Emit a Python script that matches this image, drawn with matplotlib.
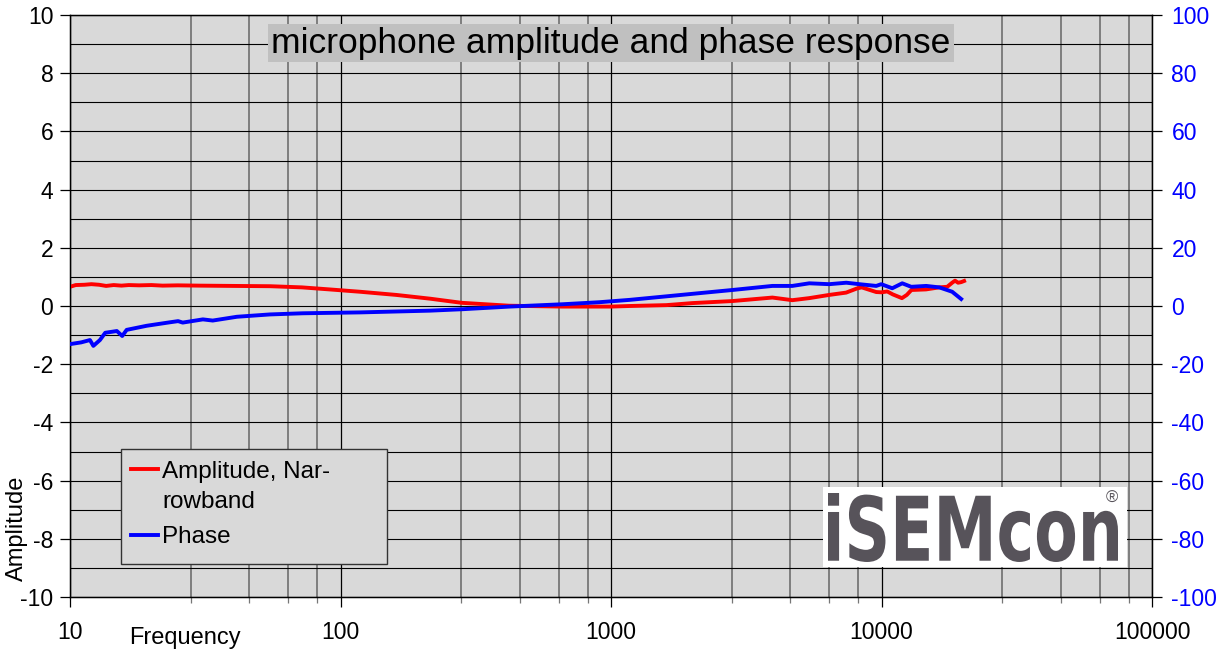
import numpy as np
import matplotlib
matplotlib.use("Agg")
import matplotlib.pyplot as plt
from matplotlib.ticker import FixedLocator, MultipleLocator, NullFormatter
from matplotlib.patches import Rectangle, PathPatch
from matplotlib.lines import Line2D
from matplotlib.textpath import TextPath
from matplotlib.font_manager import FontProperties
from matplotlib.transforms import Affine2D

plt.rcParams['font.family'] = ['Liberation Sans', 'DejaVu Sans']
plt.rcParams['axes.unicode_minus'] = False

# amplitude (dB, left axis)
amp_freq = [10, 10.5, 11.3, 12, 12.8, 13.6, 14.5, 15.5, 16.5, 18, 20, 22, 25, 30,
            40, 55, 72, 91, 118, 161, 215, 280, 420, 660, 1000, 1170, 1600, 2000,
            2810, 3950, 4680, 5400, 6400, 7400, 8100, 8450, 9560, 10000, 10500,
            11000, 11900, 12400, 12900, 14600, 16350, 17500, 18250, 18700, 19200,
            19700, 20200]
amp_db = [0.66, 0.72, 0.73, 0.75, 0.73, 0.69, 0.72, 0.70, 0.72, 0.71, 0.72, 0.70,
          0.71, 0.70, 0.69, 0.68, 0.64, 0.57, 0.49, 0.38, 0.25, 0.11, 0.01, -0.02,
          -0.02, 0.0, 0.03, 0.1, 0.17, 0.29, 0.2, 0.27, 0.38, 0.46, 0.6, 0.64,
          0.48, 0.47, 0.5, 0.4, 0.27, 0.38, 0.55, 0.57, 0.64, 0.66, 0.8, 0.87,
          0.8, 0.82, 0.86]

# phase (degrees, right axis)
ph_freq = [10, 11, 11.85, 12.2, 12.9, 13.5, 14.9, 15.6, 16.2, 19.2, 23.4, 25.1,
           26.1, 31, 33.7, 41.4, 54.8, 72.5, 118, 214, 283, 422, 662, 905, 1170,
           2810, 3950, 4680, 5410, 6410, 7410, 8280, 9560, 9980, 10960, 11930,
           12880, 14630, 16350, 18250, 19700]
ph_deg = [-13.1, -12.5, -11.7, -13.7, -11.7, -9.2, -8.6, -10.3, -8.2, -6.8, -5.6,
          -5.2, -5.7, -4.6, -5.0, -3.7, -2.9, -2.5, -2.2, -1.6, -1.1, -0.2, 0.6,
          1.3, 2.1, 5.5, 6.9, 6.9, 7.8, 7.5, 8.0, 7.5, 6.9, 7.5, 6.1, 7.8, 6.6,
          6.9, 6.4, 4.9, 2.4]

W, H = 1220, 655
fig = plt.figure(figsize=(W / 100, H / 100), dpi=100)
ax = fig.add_axes([70 / W, 1 - 597 / H, (1152 - 70) / W, (597 - 15) / H])
ax.set_facecolor('#d9d9d9')

ax.set_xscale('log')
ax.set_xlim(10, 100000)
ax.set_ylim(-10, 10)
minors = [m * 10 ** k for k in range(1, 5) for m in (2.8, 4.6, 6.4, 8.2)]
ax.xaxis.set_major_locator(FixedLocator([10, 100, 1000, 10000, 100000]))
ax.xaxis.set_minor_locator(FixedLocator(minors))
ax.xaxis.set_minor_formatter(NullFormatter())
ax.set_xticklabels(['10', '100', '1000', '10000', '100000'])
ax.yaxis.set_major_locator(MultipleLocator(2))
ax.yaxis.set_minor_locator(MultipleLocator(1))

ax.grid(True, which='major', axis='x', color='black', lw=0.9)
ax.grid(True, which='minor', axis='x', color='#777777', lw=1.3)
ax.grid(True, which='both', axis='y', color='black', lw=0.8)
ax.set_axisbelow(True)

ax.tick_params(axis='x', which='major', length=7, width=0.9, labelsize=16.5, pad=10)
ax.tick_params(axis='x', which='minor', length=4, width=0.9, color='#777777')
ax.tick_params(axis='y', which='major', length=7, width=0.9, labelsize=16.5, pad=5)
ax.tick_params(axis='y', which='minor', length=0)
for s in ax.spines.values():
    s.set_color('black')
    s.set_linewidth(1)

ax.plot(amp_freq, amp_db, color='#ff0000', lw=2.8, zorder=3)

ax2 = ax.twinx()
ax2.set_ylim(-100, 100)
ax2.yaxis.set_major_locator(MultipleLocator(20))
ax2.tick_params(axis='y', length=7, width=0.9, labelsize=16.5, labelcolor='#0000ff', pad=7)
ax2.plot(ph_freq, ph_deg, color='#0000ff', lw=2.8, zorder=3)

# axis labels
fig.text(17 / W, 1 - 528 / H, 'Amplitude', rotation=90, fontsize=17,
         ha='center', va='center')
fig.text(185 / W, 1 - 638 / H, 'Frequency', fontsize=17, ha='center', va='center')

# title
fig.text(611 / W, 1 - 43 / H, 'microphone amplitude and phase response',
         fontsize=25.5, ha='center', va='center', zorder=5,
         bbox=dict(facecolor='#c0c0c0', edgecolor='none', pad=2))

# legend box
fig.add_artist(Rectangle((121 / W, 1 - 564 / H), 266 / W, 115 / H,
                         transform=fig.transFigure, facecolor='#d9d9d9',
                         edgecolor='#333333', lw=1, zorder=5))
fig.add_artist(Line2D([131 / W, 158 / W], [1 - 469 / H] * 2, color='#ff0000',
                      lw=2.8, transform=fig.transFigure, zorder=6))
fig.add_artist(Line2D([131 / W, 158 / W], [1 - 535 / H] * 2, color='#0000ff',
                      lw=2.8, transform=fig.transFigure, zorder=6))
fig.text(162 / W, 1 - 472 / H, 'Amplitude, Nar-', fontsize=17.5,
         ha='left', va='center', zorder=7)
fig.text(162 / W, 1 - 502 / H, 'rowband', fontsize=17.5,
         ha='left', va='center', zorder=7)
fig.text(162 / W, 1 - 537 / H, 'Phase', fontsize=17.5, ha='left', va='center', zorder=7)

# logo
fig.add_artist(Rectangle((823 / W, 1 - 567 / H), 304 / W, 80 / H,
                         transform=fig.transFigure, facecolor='white',
                         edgecolor='none', zorder=5))
tp = TextPath((0, 0), 'iSEMcon', size=1,
              prop=FontProperties(family='DejaVu Sans', weight='bold'))
bb = tp.get_extents()
x0, x1, y0, y1 = 828, 1118, 562, 493
tr = (Affine2D().translate(-bb.x0, -bb.y0)
      .scale((x1 - x0) / W / bb.width, (y0 - y1) / H / bb.height)
      .translate(x0 / W, 1 - y0 / H) + fig.transFigure)
fig.add_artist(PathPatch(tp, transform=tr, facecolor='#57535a', edgecolor='none',
                         zorder=6))
fig.text(1112 / W, 1 - 498 / H, '\u00ae', fontsize=12, color='#57535a',
         ha='center', va='center', zorder=7)

fig.savefig('out.png', dpi=100)
